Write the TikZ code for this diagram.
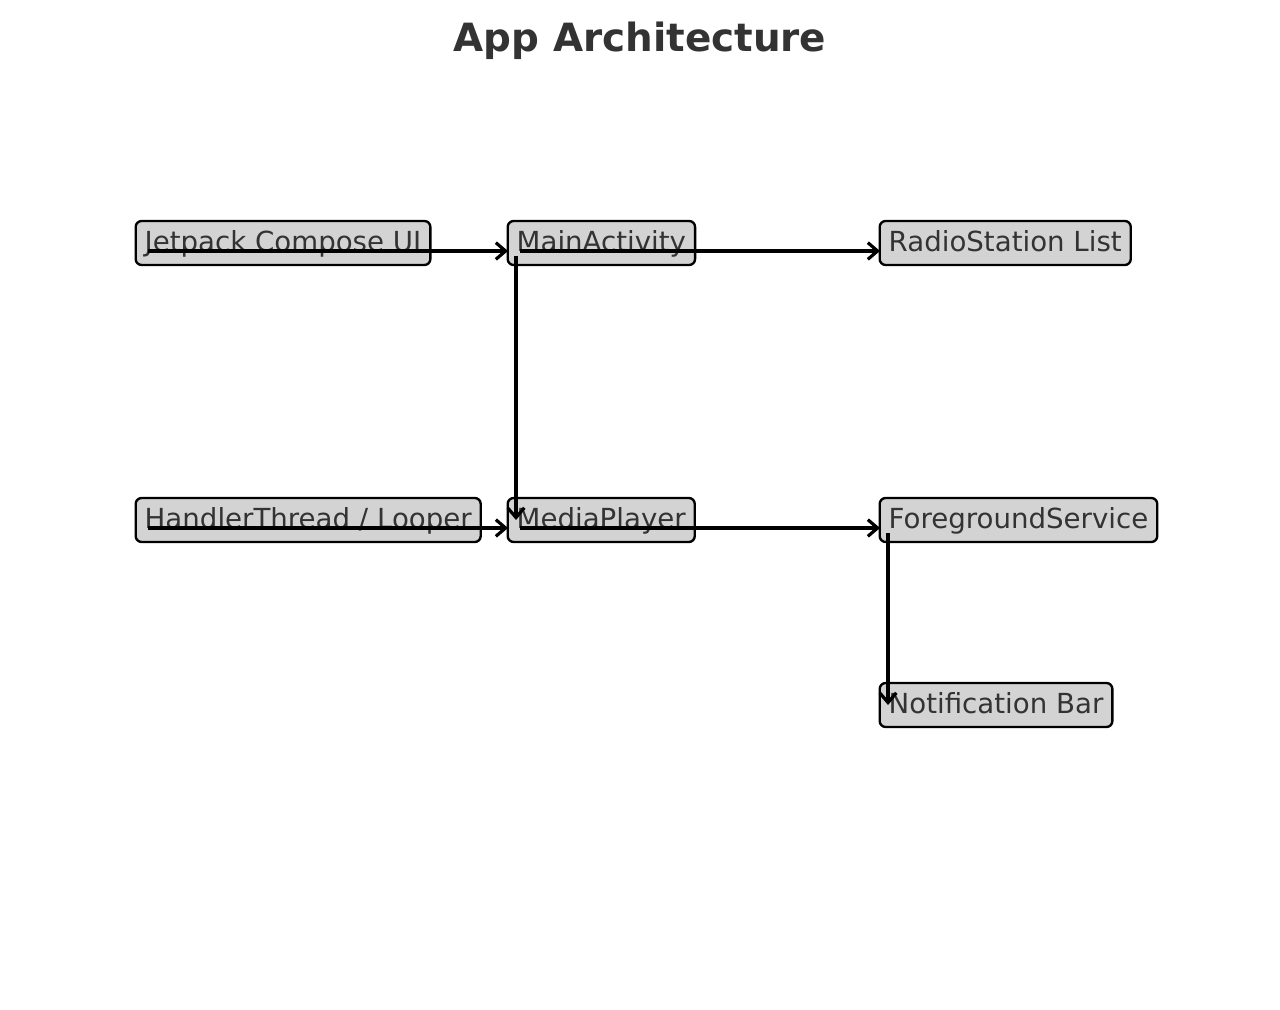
\documentclass[tikz,border=0pt]{standalone}
\usepackage{fontspec}
\setmainfont{DejaVu Sans}
\usepackage{xcolor}
\usepackage{tikz}
\usetikzlibrary{calc,arrows.meta}
\definecolor{ink}{HTML}{333333}
\definecolor{boxfill}{HTML}{D3D3D3}
\tikzset{
  box/.style={draw=black, fill=boxfill, line width=1.7pt, rounded corners=4.3pt,
    anchor=west, minimum height=31.7pt, inner xsep=6.5pt, inner ysep=0pt,
    text height=16pt, text depth=4pt,
    text=ink, font=\fontsize{19.9}{24}\selectfont},
  flow/.style={draw=black, line width=2.3pt,
    -{Straight Barb[length=7pt, width=12pt, line width=2.3pt]}},
  ttl/.style={text=ink, font=\fontsize{28}{32}\selectfont\bfseries, anchor=base}
}
\begin{document}
\begin{tikzpicture}[x=0.72pt, y=-0.72pt]
  \useasboundingbox (0,0) rectangle (1280,1010);

  \node[ttl] (title) at (640,51.5) {App Architecture};

  % top row
  \node[box] (jc) at (134.5,243) {Jetpack Compose UI};
  \node[box] (ma) at (506.5,243) {MainActivity};
  \node[box] (rs) at (878.5,243) {RadioStation List};

  % middle row
  \node[box] (ht) at (134.5,520) {HandlerThread / Looper};
  \node[box] (mp) at (506.5,520) {MediaPlayer};
  \node[box] (fs) at (878.5,520) {ForegroundService};

  \node[box] (nb) at (878.5,705) {Notification Bar};

  % arrows leave from the label anchor, so they run through the boxes
  \draw[flow] ($(jc.west)+(13.5,8)$) -- ($(ma.west)+(1.5,8)$);
  \draw[flow] ($(ma.west)+(13.5,8)$) -- ($(rs.west)+(1.5,8)$);
  \draw[flow] ($(ma.west)+(9.5,13)$) -- ($(mp.west)+(9.5,0)$);
  \draw[flow] ($(ht.west)+(13.5,8)$) -- ($(mp.west)+(1.5,8)$);
  \draw[flow] ($(mp.west)+(13.5,8)$) -- ($(fs.west)+(1.5,8)$);
  \draw[flow] ($(fs.west)+(9.5,13)$) -- ($(nb.west)+(9.5,0)$);
\end{tikzpicture}
\end{document}
